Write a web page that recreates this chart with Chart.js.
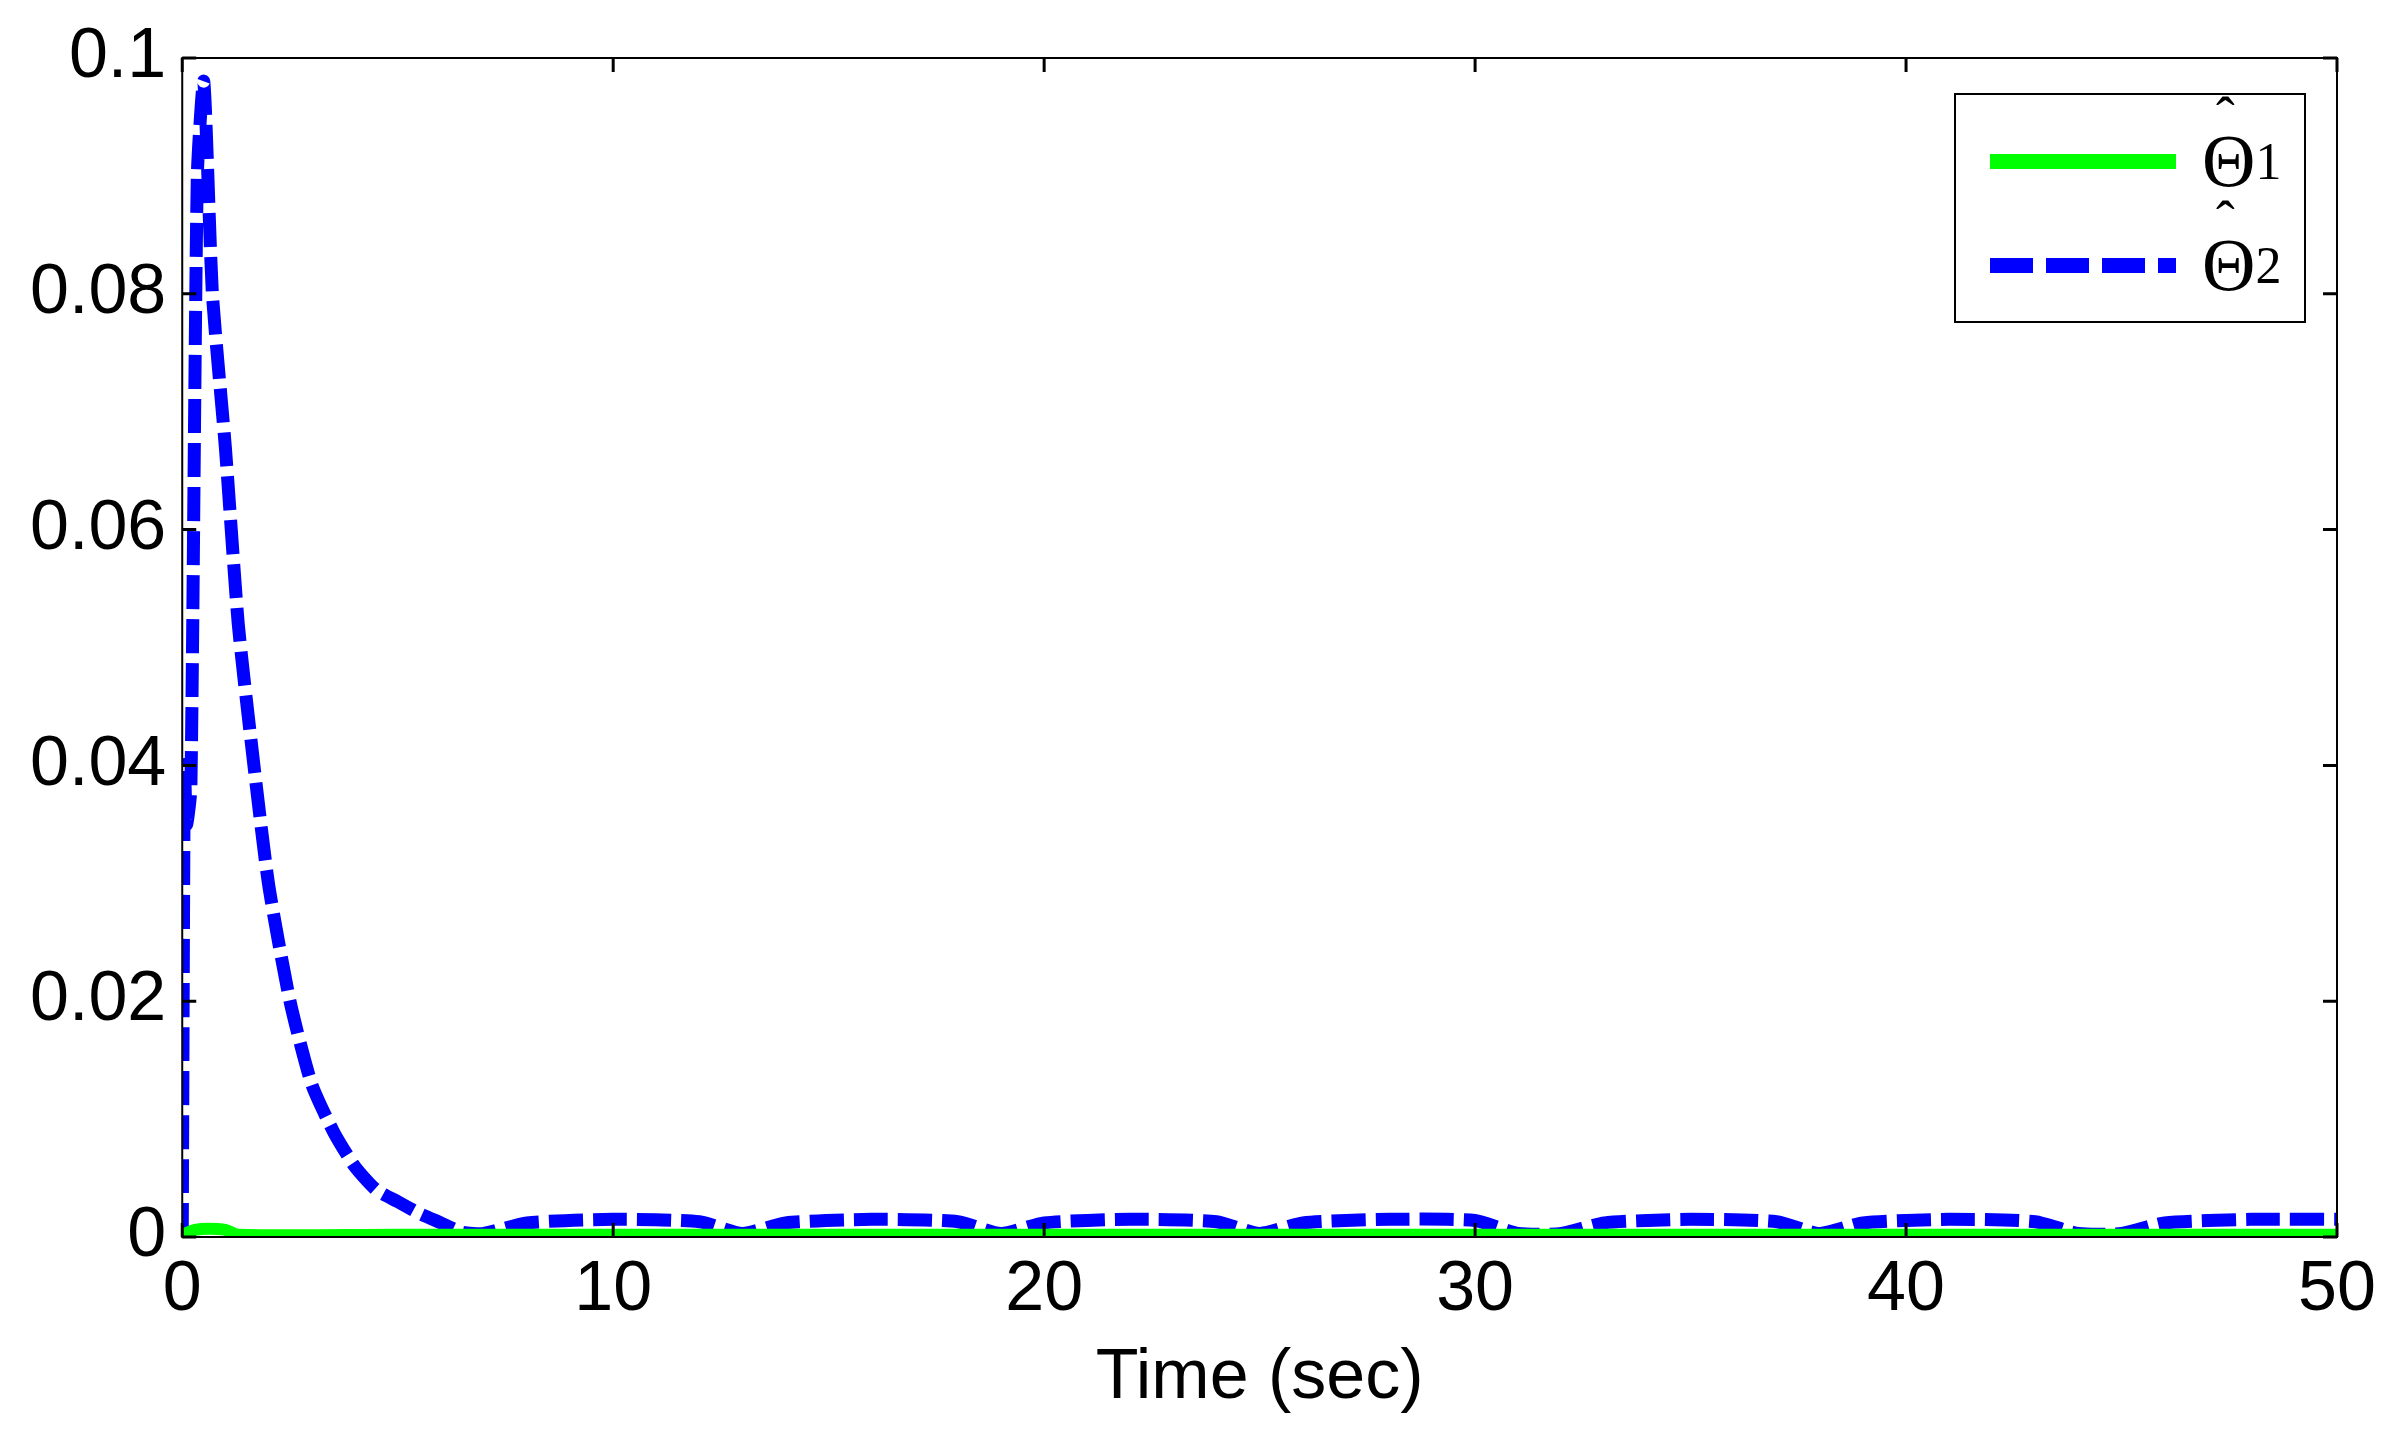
<!DOCTYPE html>
<html>
<head>
<meta charset="utf-8">
<script src="https://cdn.jsdelivr.net/npm/chart.js@4/dist/chart.umd.min.js"></script>
<style>
  html, body { margin: 0; background: #fff; }
  #wrap { position: relative; width: 2385px; height: 1443px; }
  #legend {
    position: absolute; left: 1954px; top: 93px; width: 352px; height: 230px;
    border: 2px solid #000; background: #fff; box-sizing: border-box;
    font-family: "Liberation Serif", "DejaVu Serif", serif; font-size: 74px;
  }
  .row { position: absolute; left: 34px; display: flex; align-items: center; }
  .sw { width: 186px; height: 15px; margin-right: 26px; }
  .th { position: relative; display: inline-block; }
  .hat { position: absolute; left: 14px; top: -34px; font-size: 56px; }
  sub { font-size: 52px; vertical-align: -14px; }
</style>
</head>
<body>
<div id="wrap">
  <canvas id="chart" width="2385" height="1443"></canvas>
  <div id="legend">
    <div class="row" style="top:24px"><div class="sw" style="background:#00ff00"></div><span class="th"><span class="hat">ˆ</span>Θ</span><sub>1</sub></div>
    <div class="row" style="top:128px"><div class="sw" style="background:repeating-linear-gradient(90deg,#0000ff 0 43px,transparent 43px 56px)"></div><span class="th"><span class="hat">ˆ</span>Θ</span><sub>2</sub></div>
  </div>
</div>
<script>
/* =========================
   DATA
========================= */

const time2 = [0, 0.05, 0.1, 0.2, 0.35, 0.5, 0.7, 1.0, 1.3, 1.6, 2.0, 2.5, 3.0, 3.5, 4.0, 4.5, 5.0, 5.5, 6.0, 6.5, 7, 8, 10, 12, 13, 14, 16, 18, 19, 20, 22, 24, 25, 26, 28, 30, 31, 32, 33, 35, 37, 38, 39, 41, 43, 44, 45, 46, 48, 50];
const theta2 = [0, 0.040, 0.035, 0.038, 0.090, 0.098, 0.080, 0.067, 0.052, 0.042, 0.030, 0.020, 0.013, 0.009, 0.006, 0.004, 0.003, 0.002, 0.0012, 0.0004, 0.0003, 0.0012, 0.0015, 0.0013, 0.0003, 0.0012, 0.0015, 0.0013, 0.0003, 0.0012, 0.0015, 0.0013, 0.0003, 0.0012, 0.0015, 0.0014, 0.0003, 0.0003, 0.0012, 0.0015, 0.0013, 0.0003, 0.0012, 0.0015, 0.0013, 0.0003, 0.0003, 0.0012, 0.0015, 0.0015];

const time1 = [0, 0.3, 0.6, 1.0, 1.3, 5, 10, 20, 30, 40, 50];
const theta1 = [0.0002, 0.0006, 0.0007, 0.0006, 0.0002, 0.0002, 0.0002, 0.0002, 0.0002, 0.0002, 0.0002];

const xTicks = [0, 10, 20, 30, 40, 50];
const yTicks = [0, 0.02, 0.04, 0.06, 0.08, 0.1];

/* =========================
   FRAME + INWARD TICKS
========================= */

const matlabBox = {
  id: "matlabBox",
  afterDatasetsDraw(chart) {
    const { ctx, chartArea: a, scales } = chart;
    ctx.save();
    ctx.strokeStyle = "#000";
    ctx.lineWidth = 2;
    ctx.strokeRect(a.left, a.top, a.right - a.left, a.bottom - a.top);
    ctx.lineWidth = 3;
    const len = 14;
    xTicks.forEach(v => {
      const x = scales.x.getPixelForValue(v);
      ctx.beginPath();
      ctx.moveTo(x, a.bottom); ctx.lineTo(x, a.bottom - len);
      ctx.moveTo(x, a.top); ctx.lineTo(x, a.top + len);
      ctx.stroke();
    });
    yTicks.forEach(v => {
      const y = scales.y.getPixelForValue(v);
      ctx.beginPath();
      ctx.moveTo(a.left, y); ctx.lineTo(a.left + len, y);
      ctx.moveTo(a.right, y); ctx.lineTo(a.right - len, y);
      ctx.stroke();
    });
    ctx.restore();
  }
};

/* =========================
   CHART
========================= */

const tickFont = { family: "Liberation Sans, Arial", size: 70 };

new Chart(document.getElementById("chart"), {
  type: "line",
  data: {
    datasets: [
      {
        label: "Θ̂1",
        data: time1.map((t, i) => ({ x: t, y: theta1[i] })),
        borderColor: "#00ff00",
        borderWidth: 12,
        pointRadius: 0,
        tension: 0.3
      },
      {
        label: "Θ̂2",
        data: time2.map((t, i) => ({ x: t, y: theta2[i] })),
        borderColor: "#0000ff",
        borderWidth: 13,
        borderDash: [34, 10],
        pointRadius: 0,
        tension: 0.2
      }
    ]
  },
  options: {
    responsive: false,
    animation: false,
    layout: { padding: { left: 22, right: 48, top: 58, bottom: 22 } },
    plugins: { legend: { display: false }, tooltip: { enabled: false } },
    scales: {
      x: {
        type: "linear", min: 0, max: 50,
        afterBuildTicks: s => { s.ticks = xTicks.map(v => ({ value: v })); },
        grid: { display: false },
        border: { display: false },
        ticks: { color: "#000", font: tickFont, padding: 4 },
        title: { display: true, text: "Time (sec)", color: "#000", font: tickFont, padding: 0 }
      },
      y: {
        min: 0, max: 0.1,
        afterBuildTicks: s => { s.ticks = yTicks.map(v => ({ value: v })); },
        grid: { display: false },
        border: { display: false },
        ticks: { color: "#000", font: tickFont, padding: 8, callback: v => String(+v.toFixed(2)) }
      }
    }
  },
  plugins: [matlabBox]
});
</script>
</body>
</html>
